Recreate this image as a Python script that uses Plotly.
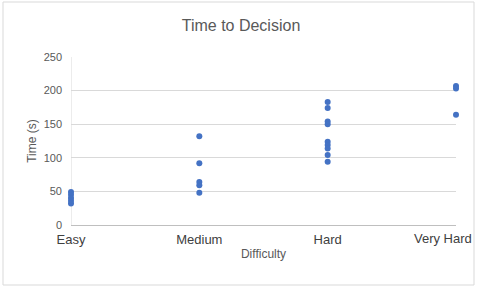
import plotly.graph_objects as go

categories = ["Easy", "Medium", "Hard", "Very Hard"]
easy = [49, 45, 40, 36, 32]
medium = [132, 92, 64, 59, 48]
hard = [183, 174, 154, 150, 124, 119, 114, 104, 94]
very_hard = [207, 203, 164]

series = [easy, medium, hard, very_hard]
xs, ys = [], []
for i, vals in enumerate(series):
    for v in vals:
        xs.append(i + 1)
        ys.append(v)

tick_vals = list(range(1, len(categories) + 1))
# Excel pulls the last label inward so it fits inside the chart border;
# it is drawn as a right-anchored annotation instead of a centred tick label.
tick_text = categories[:-1] + [""]

W, H = 482, 289
L, R, T, B = 71, 26, 57, 64
pw, ph = W - L - R, H - T - B

fig = go.Figure()
fig.add_trace(go.Scatter(
    x=xs, y=ys, mode="markers",
    marker=dict(color="#4472C4", size=6, symbol="circle", line=dict(width=0)),
    cliponaxis=False, showlegend=False,
))

font_family = "Liberation Sans, Arial, sans-serif"
fig.update_layout(
    width=W, height=H,
    margin=dict(l=L, r=R, t=T, b=B),
    paper_bgcolor="white", plot_bgcolor="white",
    font=dict(family=font_family, color="#595959"),
    title=dict(text="Time to Decision", x=0.5, xanchor="center",
               y=1 - 25 / H, yanchor="middle", yref="container",
               font=dict(size=16, color="#595959")),
    xaxis=dict(range=[1, 4], tickvals=tick_vals, ticktext=tick_text,
               showgrid=False, zeroline=False, showline=True, linecolor="#bfbfbf",
               linewidth=1, ticks="", tickfont=dict(size=13, color="#404040"),
               ticklabelstandoff=2, automargin=False,
               title=dict(text="Difficulty", font=dict(size=12, color="#595959"), standoff=4)),
    yaxis=dict(range=[0, 250], tickvals=[0, 50, 100, 150, 200, 250],
               showgrid=True, gridcolor="#d9d9d9", gridwidth=1, zeroline=False,
               showline=False, ticks="", tickfont=dict(size=11, color="#595959"),
               ticklabelstandoff=8, automargin=False,
               title=dict(text="Time (s)", font=dict(size=12, color="#595959"), standoff=4)),
    shapes=[dict(type="rect", xref="paper", yref="paper",
                 x0=(3 - L) / pw, x1=(474 - L) / pw,
                 y0=(H - B - 285) / ph, y1=(H - B - 2) / ph,
                 line=dict(color="#d9d9d9", width=1), fillcolor="rgba(0,0,0,0)",
                 layer="below")],
)
fig.add_shape(type="line", xref="x", yref="paper", x0=1, x1=1, y0=0, y1=1,
              line=dict(color="#d9d9d9", width=1), layer="below")
fig.add_annotation(x=tick_vals[-1], y=0, xref="x", yref="paper",
                   text=categories[-1], showarrow=False,
                   xanchor="right", yanchor="top", xshift=18, yshift=-4,
                   font=dict(size=13, color="#404040", family=font_family))

fig.write_html("out.html")
